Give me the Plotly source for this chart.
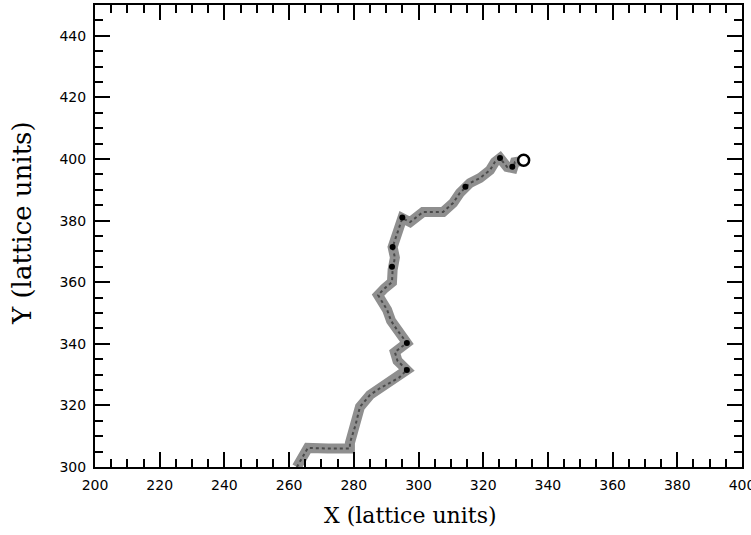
import plotly.graph_objects as go

# Centre line of the trail (lattice units)
path_x = [262.4, 264.0, 265.8, 272.0, 278.8, 278.8, 280.5, 281.9, 285.0, 288.0, 291.2, 294.0,
          296.4, 293.5, 292.7, 296.4, 293.4, 291.5, 290.3, 287.5, 289.5, 291.8, 292.0, 292.7,
          292.0, 293.7, 295.0, 297.4, 301.4, 307.6, 310.7, 312.8, 315.9, 319.0, 322.1, 323.6,
          325.2, 327.4, 329.2, 329.8, 332.0]
path_y = [300.0, 303.0, 306.2, 306.0, 306.0, 307.8, 313.5, 319.5, 323.4, 325.5, 327.3, 329.0,
          331.5, 334.5, 337.3, 340.3, 344.5, 347.5, 351.0, 355.8, 358.0, 360.0, 364.0, 368.0,
          371.4, 377.0, 380.8, 379.5, 382.8, 382.8, 385.7, 389.0, 392.2, 393.8, 396.4, 399.0,
          400.3, 397.4, 397.0, 399.0, 399.4]

# Dark blobs along the trail
blob_x = [295.0, 296.4, 296.4, 292.0, 291.8, 325.2, 329.0, 314.5]
blob_y = [381.0, 340.3, 331.5, 371.4, 365.0, 400.3, 397.5, 391.0]

# End marker
end_x = [332.5]
end_y = [399.6]

x_title = "X (lattice units)"
y_title = "Y (lattice units)"

fig = go.Figure()
fig.add_trace(go.Scatter(x=path_x, y=path_y, mode="lines",
                         line=dict(color="#8f8f8f", width=10), hoverinfo="skip"))
fig.add_trace(go.Scatter(x=path_x, y=path_y, mode="lines",
                         line=dict(color="#4a4a4a", width=2, dash="dot"), hoverinfo="skip"))
fig.add_trace(go.Scatter(x=blob_x, y=blob_y, mode="markers",
                         marker=dict(color="black", size=6, symbol="circle"), hoverinfo="skip"))
fig.add_trace(go.Scatter(x=end_x, y=end_y, mode="markers",
                         marker=dict(color="white", size=11, symbol="circle",
                                     line=dict(color="black", width=2.5)), hoverinfo="skip"))

axis_common = dict(
    showgrid=False, zeroline=False, showline=True, linecolor="black", linewidth=2,
    mirror="allticks", ticks="inside", ticklen=15, tickwidth=1.5, tickcolor="black",
    automargin=False, ticklabeloverflow="allow", ticklabelstandoff=4,
    tickfont=dict(family="DejaVu Sans, sans-serif", size=14, color="black"),
)

fig.update_layout(
    width=751, height=535,
    margin=dict(l=95, r=9, t=5, b=68),
    paper_bgcolor="white", plot_bgcolor="white",
    showlegend=False,
    xaxis=dict(range=[200, 400], dtick=20, tick0=200,
               minor=dict(dtick=5, ticklen=8, ticks="inside", tickcolor="black", tickwidth=1.5),
               **axis_common),
    yaxis=dict(range=[300, 450], dtick=20, tick0=300,
               minor=dict(dtick=5, ticklen=8, ticks="inside", tickcolor="black", tickwidth=1.5),
               **axis_common),
    annotations=[
        dict(text=x_title, xref="paper", yref="paper", x=0.488, y=-0.104,
             xanchor="center", yanchor="middle", showarrow=False,
             font=dict(family="DejaVu Serif, Liberation Serif, serif", size=22, color="black")),
        dict(text=y_title, xref="paper", yref="paper", x=-0.113, y=0.528,
             xanchor="center", yanchor="middle", showarrow=False, textangle=-90,
             font=dict(family="DejaVu Serif, Liberation Serif, serif", size=26, color="black")),
    ],
)

fig.write_html("out.html", config={"displayModeBar": False},
               post_script="document.body.style.margin='0';document.body.style.overflow='hidden';")
